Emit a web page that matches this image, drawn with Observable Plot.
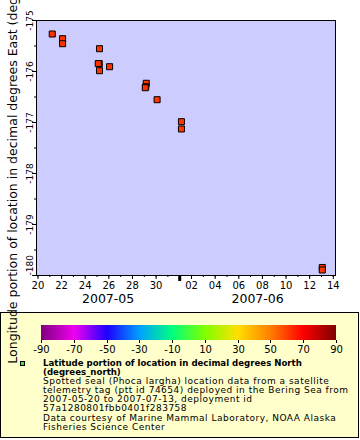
<!DOCTYPE html>
<html><head><meta charset="utf-8">
<script src="https://cdn.jsdelivr.net/npm/d3@7"></script>
<script src="https://cdn.jsdelivr.net/npm/@observablehq/plot@0.6"></script>
<style>
html,body{margin:0;padding:0;background:#fff;}
body{width:360px;height:440px;overflow:hidden;position:relative;font-family:"DejaVu Sans";}
#chart{position:absolute;left:0;top:0;z-index:2;}
#chart svg{display:block;overflow:visible;}
#legend{position:absolute;left:0;top:312px;width:357px;height:124px;border:1px solid #000;background:#FFFFCC;z-index:1;}
#legend svg{position:absolute;left:0;top:0;overflow:visible;}
</style></head><body>
<div id="chart"></div>
<div id="legend"></div>
<script>
// ---- data ----
const pointTimes = ["2007-05-21T05:00Z","2007-05-22T02:00Z","2007-05-22T02:00Z","2007-05-25T05:00Z","2007-05-25T04:30Z","2007-05-25T02:30Z","2007-05-25T05:00Z","2007-05-26T01:30Z","2007-05-29T04:00Z","2007-05-29T03:00Z","2007-05-29T02:00Z","2007-05-30T02:00Z","2007-06-01T03:30Z","2007-06-01T03:30Z","2007-06-13T01:40Z","2007-06-13T01:40Z"];
const longitudes = [-175.265,-175.357,-175.455,-175.553,-175.847,-175.845,-175.984,-175.906,-176.231,-176.298,-176.318,-176.553,-176.984,-177.127,-179.843,-179.892];
const latitudes = [62.3,62.2,62.2,62.1,62.0,62.0,62.0,62.0,61.9,61.9,61.9,61.9,61.8,61.8,61.6,61.6];
const timeDomain = ["2007-05-19T21:00Z","2007-06-14T04:30Z"];
const lonDomain = [-180,-175];
const lonTicks = [-180,-179,-178,-177,-176,-175];
const lonMinorTicks = [-179.5,-178.5,-177.5,-176.5,-175.5];
const monthNames = ["2007-05","2007-06"];
const paletteStops = [-90,-70,-50,-30,-10,10,30,50,70,90];
const paletteColors = ["#800080","#F000F0","#1E00FF","#00A0FF","#00FF80","#80FF00","#FFE000","#FF8000","#FF0000","#800000"];
const yTitle = "Longitude portion of location in decimal degrees East (degrees_east)";
const legendBold = ["Latitude portion of location in decimal degrees North","(degrees_north)"];
const legendLines = ["Spotted seal (Phoca largha) location data from a satellite","telemetry tag (ptt id 74654) deployed in the Bering Sea from","2007-05-20 to 2007-07-13, deployment id","57a1280801fbb0401f283758"];
const legendCredit = ["Data courtesy of Marine Mammal Laboratory, NOAA Alaska","Fisheries Science Center"];

// ---- derived tables ----
const data = pointTimes.map((t, i) => ({time: new Date(t), lon: longitudes[i], lat: latitudes[i]}));
const xDomain = timeDomain.map(d => new Date(d));
const allDays = d3.utcDay.range(d3.utcDay.ceil(xDomain[0]), xDomain[1]);
const majorDays = allDays.filter(d => d.getUTCDate() % 2 === 0);
const monthStarts = d3.utcMonth.range(d3.utcMonth.ceil(xDomain[0]), xDomain[1]);
const monthLabels = monthNames.map(m => {
  const s = new Date(m + "-01T00:00Z");
  const e = d3.utcMonth.offset(s, 1);
  const a = Math.max(+s, +xDomain[0]), b = Math.min(+e, +xDomain[1]);
  return {label: m, mid: new Date((a + b) / 2)};
});
const lonTickLabels = lonTicks.map(v => ({v, anchor: v === lonDomain[0] ? "start" : "middle"}));

const chart = Plot.plot({
  width: 360, height: 312,
  marginLeft: 36, marginRight: 25, marginTop: 20, marginBottom: 37,
  style: {fontFamily: "DejaVu Sans", background: "transparent", overflow: "visible", color: "black"},
  x: {type: "utc", domain: xDomain},
  y: {domain: lonDomain},
  color: {type: "linear", domain: paletteStops, range: paletteColors},
  marks: [
    Plot.frame({fill: "#CCCCFF"}),
    Plot.axisX(allDays, {tickSize: 2, tickFormat: () => "", label: null}),
    Plot.axisX(majorDays, {tickSize: 4, tickPadding: 2, tickFormat: d3.utcFormat("%d"), fontSize: 10, label: null}),
    Plot.axisX(monthStarts, {tickSize: 6, strokeWidth: 3, tickFormat: () => "", label: null}),
    Plot.text(monthLabels, {x: "mid", text: "label", frameAnchor: "bottom", dy: 27, fontSize: 12.5}),
    Plot.axisY(lonMinorTicks, {tickSize: 2, tickFormat: () => "", label: null}),
    Plot.axisY(lonTicks, {tickSize: 4, tickFormat: () => "", label: null}),
    Plot.text(lonTickLabels.filter(d => d.anchor === "middle"), {y: "v", text: d => String(d.v), frameAnchor: "left", rotate: -90, dx: -4, textAnchor: "middle", lineAnchor: "bottom", fontSize: 9}),
    Plot.text(lonTickLabels.filter(d => d.anchor === "start"), {y: "v", text: d => String(d.v), frameAnchor: "left", rotate: -90, dx: -4, textAnchor: "start", lineAnchor: "bottom", fontSize: 9}),
    Plot.text([yTitle], {text: d => d, frameAnchor: "left", rotate: -90, dx: -28, textAnchor: "middle", lineAnchor: "top", fontSize: 12.5}),
    Plot.dot(data, {x: "time", y: "lon", fill: "lat", stroke: "black", strokeWidth: 1, symbol: "square", r: 3.4}),
    Plot.frame({stroke: "black"})
  ]
});
document.getElementById("chart").append(chart);

// ---- legend ----
const legend = document.getElementById("legend");
const ramp = chart.legend("color", {
  width: 357, height: 45, marginLeft: 40, marginRight: 22, marginTop: 12, marginBottom: 18,
  tickSize: 3, ticks: paletteStops, tickFormat: d => String(d), label: null,
  style: {fontFamily: "DejaVu Sans", fontSize: "10px", background: "transparent", color: "black"}
});
ramp.querySelectorAll(".tick line").forEach(l => l.setAttribute("y1", 0));
legend.append(ramp);

const svg = d3.create("svg").attr("width", 357).attr("height", 124)
  .style("font-family", "DejaVu Sans");
svg.append("rect").attr("x", 19.5).attr("y", 48.5).attr("width", 4).attr("height", 4)
  .attr("fill", "#44E044").attr("stroke", "#000");
const lines = [
  ...legendBold.map(t => ({t, bold: true})),
  ...legendLines.map(t => ({t, bold: false})),
  ...legendCredit.map(t => ({t, bold: false, credit: true}))
];
lines.forEach((d, i) => {
  svg.append("text").attr("x", 42).attr("y", 53 + i * 9 + (d.credit ? 1 : 0))
    .attr("font-weight", d.bold ? "bold" : null)
    .attr("font-size", d.bold ? "8.6px" : "9px")
    .attr("letter-spacing", d.bold ? null : "0.5px")
    .attr("fill", "#000").text(d.t);
});
legend.append(svg.node());
</script>
</body></html>
